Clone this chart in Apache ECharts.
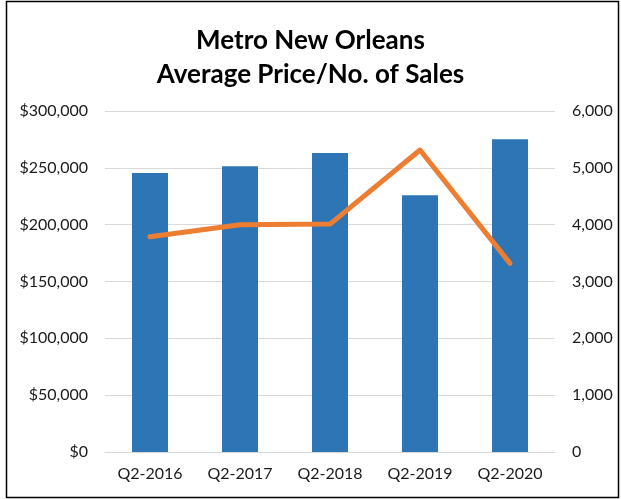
<!DOCTYPE html>
<html>
<head>
<meta charset="utf-8">
<script src="https://cdn.jsdelivr.net/npm/echarts@6/dist/echarts.min.js"></script>
<style>html,body{margin:0;padding:0;background:#fff}#c{width:621px;height:499px}</style>
</head>
<body>
<div id="c"></div>
<script>
var categories = ['Q2-2016', 'Q2-2017', 'Q2-2018', 'Q2-2019', 'Q2-2020'];
var avgPrice = [245400, 251300, 263000, 225800, 275100];
var numSales = [3786, 4000, 4010, 5313, 3318];
var titleLines = ['Metro New Orleans', 'Average Price/No. of Sales'];

var chart = echarts.init(document.getElementById('c'), null, {renderer: 'canvas'});
var font = 'Lato, "Open Sans", sans-serif';
chart.setOption({
  animation: false,
  backgroundColor: '#fff',
  graphic: [{
    type: 'rect', shape: {x: 6.5, y: 1.5, width: 612, height: 496},
    style: {fill: 'none', stroke: '#000', lineWidth: 1.5}, silent: true
  }],
  title: {
    text: titleLines.join('\n'), left: 'center', top: 19,
    textStyle: {fontFamily: font, fontWeight: 'bold', fontSize: 26, lineHeight: 34, color: '#000'}
  },
  grid: {left: 105, right: 66, top: 111, bottom: 47, containLabel: false},
  xAxis: {
    type: 'category', data: categories,
    axisLine: {show: true, lineStyle: {color: '#d9d9d9', width: 1}},
    axisTick: {show: false},
    axisLabel: {fontFamily: font, fontSize: 16, color: '#1a1a1a', margin: 14}
  },
  yAxis: [{
    type: 'value', min: 0, max: 300000, interval: 50000,
    axisLine: {show: false}, axisTick: {show: false},
    splitLine: {lineStyle: {color: '#d9d9d9', width: 1}},
    axisLabel: {fontFamily: font, fontSize: 16, color: '#1a1a1a', margin: 17,
      formatter: function (v) { return '$' + v.toLocaleString('en-US'); }}
  }, {
    type: 'value', min: 0, max: 6000, interval: 1000,
    axisLine: {show: false}, axisTick: {show: false}, splitLine: {show: false},
    axisLabel: {fontFamily: font, fontSize: 16, color: '#1a1a1a', margin: 17,
      formatter: function (v) { return v.toLocaleString('en-US'); }}
  }],
  series: [{
    type: 'bar', data: avgPrice, yAxisIndex: 0, barWidth: 36,
    itemStyle: {color: '#2e75b6'}
  }, {
    type: 'line', data: numSales, yAxisIndex: 1, symbol: 'none',
    lineStyle: {color: '#ed7d31', width: 5, cap: 'round', join: 'round'}
  }]
});
</script>
</body>
</html>
